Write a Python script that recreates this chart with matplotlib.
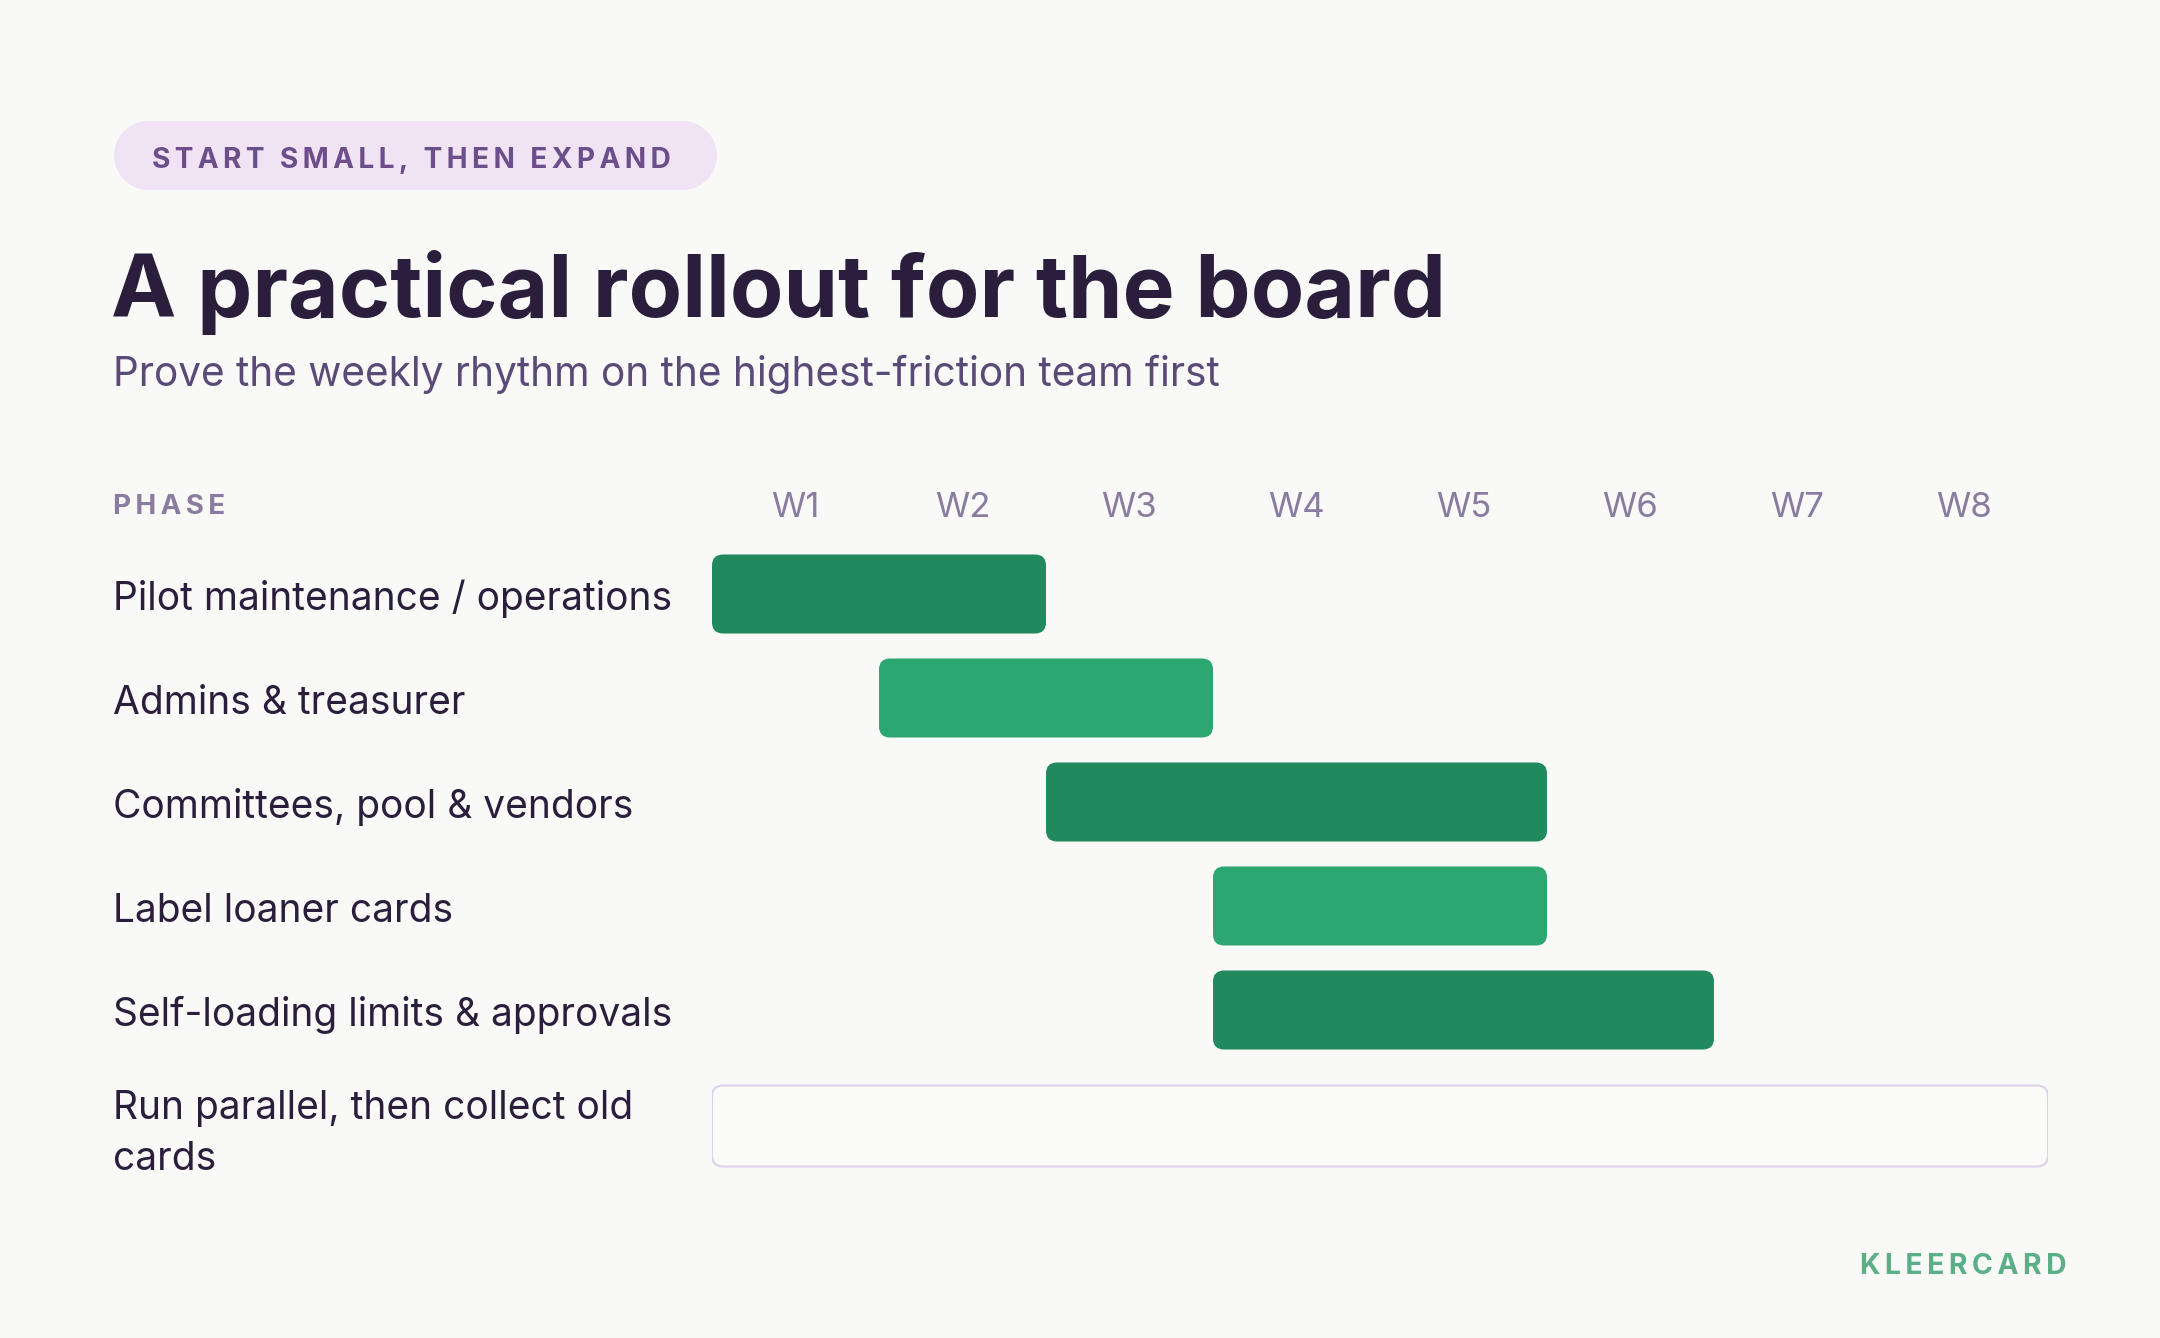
"""Rollout timeline (Gantt-style) for the board."""

import matplotlib

matplotlib.use("Agg")
import matplotlib.pyplot as plt
from matplotlib.lines import Line2D
from matplotlib.patches import FancyBboxPatch
from matplotlib.transforms import blended_transform_factory

# ---- data ----
phases = [
    "Pilot maintenance / operations",
    "Admins & treasurer",
    "Committees, pool & vendors",
    "Label loaner cards",
    "Self-loading limits & approvals",
    "Run parallel, then collect old\ncards",
]
start_week = [1, 2, 3, 4, 4, 1]
end_week = [2, 3, 5, 5, 6, 8]
tone = ["dark", "light", "dark", "light", "dark", "outline"]
weeks = ["W1", "W2", "W3", "W4", "W5", "W6", "W7", "W8"]

kicker = "START SMALL, THEN EXPAND"
title = "A practical rollout for the board"
subtitle = "Prove the weekly rhythm on the highest-friction team first"
brand = "KLEERCARD"

# ---- style ----
BG = "#F9F9F7"
INK = "#2A1E3C"
SUB = "#5A4A78"
MUTED = "#8A7BA0"
FILL = {"dark": "#208A5E", "light": "#2DA772", "outline": "#FAFAF9"}
EDGE = "#DCD2EA"
FONT = ["Inter", "DejaVu Sans"]

W, H = 2160, 1338
plt.rcParams["font.family"] = FONT


def spaced(s):
    return "\u2009".join(s)


def fx(x):
    return x / W


def fy(y):
    return 1 - y / H


fig = plt.figure(figsize=(W / 100, H / 100), dpi=100, facecolor=BG)

# kicker pill: a thick line with round caps gives true semicircular ends
pill_left, pill_right, pill_top, pill_bot = 113, 716, 120, 189
pill_h = pill_bot - pill_top
pill_y = (pill_top + pill_bot) / 2
fig.add_artist(Line2D(
    [fx(pill_left + pill_h / 2), fx(pill_right - pill_h / 2)], [fy(pill_y), fy(pill_y)],
    transform=fig.transFigure, color="#F0E3F4",
    linewidth=pill_h * 72 / 100, solid_capstyle="round",
))
fig.text(fx(152), fy(160), spaced(kicker), fontsize=20.2, fontweight="bold",
         color="#6B4E8A", va="center", ha="left")

fig.text(fx(111), fy(317), title, fontsize=63, fontweight="bold",
         color=INK, va="baseline", ha="left")
fig.text(fx(113), fy(386), subtitle, fontsize=29.2, color=SUB,
         va="baseline", ha="left")

fig.text(fx(113), fy(507), spaced("PHASE"), fontsize=20, fontweight="bold",
         color=MUTED, va="center", ha="left")
fig.text(fx(2066), fy(1267), spaced(brand), fontsize=20.4, fontweight="bold",
         color="#5BAF86", va="center", ha="right")

# ---- timeline axes: x in weeks, y in pixel rows ----
top, bottom = 470, 1200
ax = fig.add_axes([fx(712), fy(bottom), fx(2048) - fx(712), fy(top) - fy(bottom)])
ax.set_xlim(0, len(weeks))
ax.set_ylim(bottom, top)
ax.axis("off")
ax.patch.set_alpha(0)

px_per_week = (2048 - 712) / len(weeks)
label_tf = blended_transform_factory(fig.transFigure, ax.transData)

for i, w in enumerate(weeks):
    ax.text(i + 0.5, 517, w, fontsize=25, color=MUTED, ha="center", va="baseline")

row_y = 594
bar_h = 79
prev_half = 0
for k, name in enumerate(phases):
    n_lines = name.count("\n") + 1
    half = 52 if n_lines == 1 else 63
    if k > 0:
        row_y += prev_half + half
    prev_half = half

    x0 = start_week[k] - 1
    dur = end_week[k] - start_week[k] + 1
    outline = tone[k] == "outline"
    box = FancyBboxPatch(
        (x0, row_y - bar_h / 2), dur, bar_h + (2 if outline else 0),
        boxstyle=f"round,pad=0,rounding_size={11 / px_per_week}",
        mutation_aspect=px_per_week,
        facecolor=FILL[tone[k]],
        edgecolor=EDGE if outline else "none",
        linewidth=1.5,
    )
    ax.add_patch(box)
    ax.text(fx(113), row_y + 5 + 4 * (n_lines - 1), name, transform=label_tf,
            fontsize=28, color=INK, ha="left", va="center", linespacing=1.5)

fig.savefig("out.png", dpi=100, facecolor=BG)
